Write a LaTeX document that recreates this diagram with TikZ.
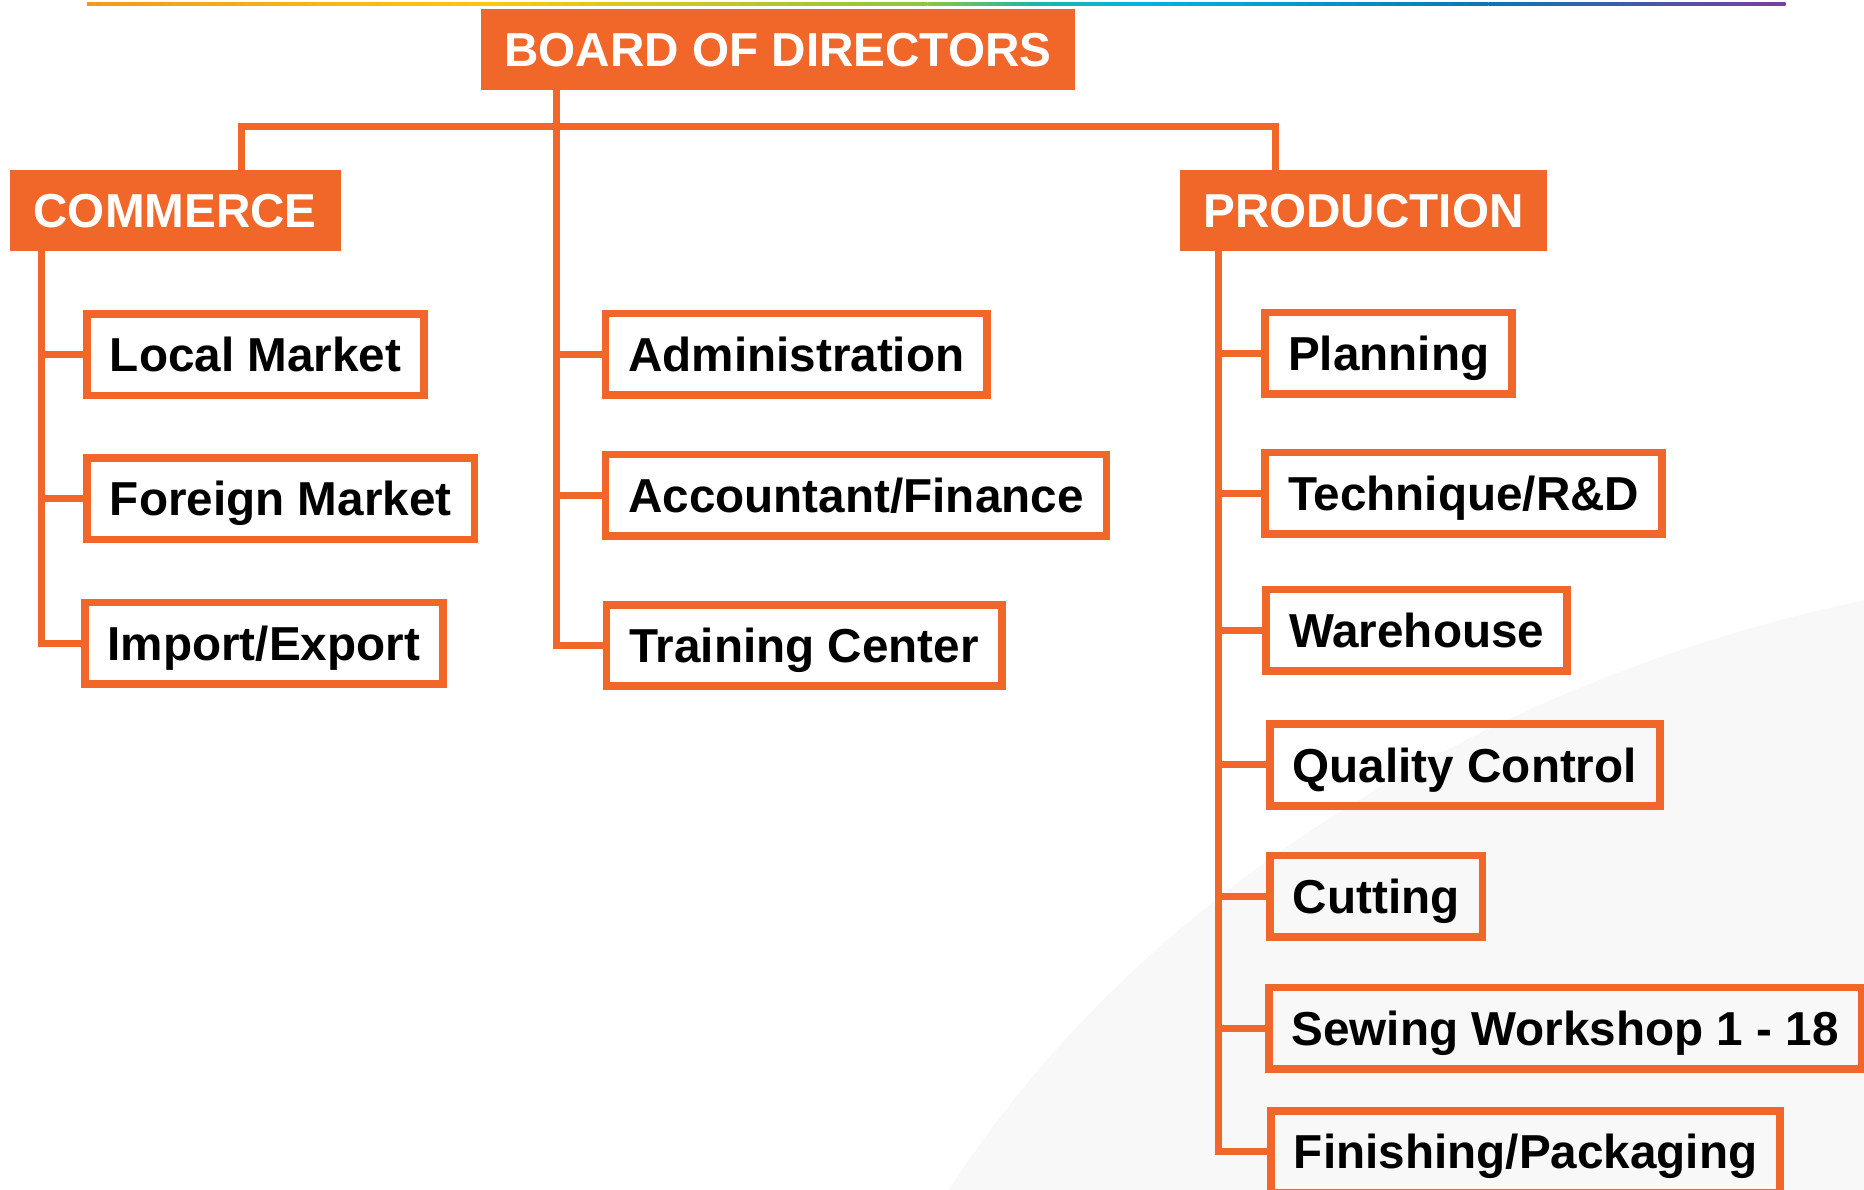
\documentclass[tikz,border=0pt]{standalone}
\usepackage{fontspec}
\setmainfont{Liberation Sans}
\usetikzlibrary{calc}

\definecolor{brand}{HTML}{F06729}
\definecolor{rOrange}{HTML}{F39A1E}
\definecolor{rYellow}{HTML}{FDC70F}
\definecolor{rGreen}{HTML}{8CC63F}
\definecolor{rTeal}{HTML}{1BB7A4}
\definecolor{rCyan}{HTML}{00B4E4}
\definecolor{rBlue}{HTML}{0A76B8}
\definecolor{rPurple}{HTML}{7B3F9B}
\definecolor{swoosh}{HTML}{F8F8F8}

\begin{document}
\begin{tikzpicture}[x=0.025cm, y=-0.025cm,
  head/.style={anchor=west, fill=brand, text=white, font=\bfseries\fontsize{28.5pt}{34pt}\selectfont,
    inner xsep=14.2pt, inner ysep=0pt, text height=20.4pt, text depth=0pt, minimum height=48.4pt},
  box/.style={anchor=west, draw=brand, line width=4.6pt, font=\bfseries\fontsize{28.5pt}{34pt}\selectfont,
    inner xsep=13.7pt, inner ysep=0pt, text height=20.4pt, text depth=0pt, minimum height=48.7pt},
  link/.style={draw=brand, line width=4.2pt}
]
  \useasboundingbox (0,0) rectangle (1568,1001);
  \clip (0,0) rectangle (1568,1001);

  % background
  \fill[swoosh] (798,1001) .. controls (980,720) and (1300,560) .. (1568,505) -- (1568,1001) -- cycle;

  % rainbow rule
  \shade[left color=rOrange, right color=rYellow] (73,1.7) rectangle (414,4.4);
  \shade[left color=rYellow, right color=rGreen] (414,1.7) rectangle (780,4.4);
  \shade[left color=rGreen, right color=rTeal] (780,1.7) rectangle (870,4.4);
  \shade[left color=rTeal, right color=rCyan] (870,1.7) rectangle (960,4.4);
  \shade[left color=rCyan, right color=rBlue] (960,1.7) rectangle (1252,4.4);
  \shade[left color=rBlue, right color=rPurple] (1252,1.7) rectangle (1502,4.4);

  \node[head] (bod) at (404,41.5) {BOARD OF DIRECTORS};
  \node[head] (comm) at (8,177) {COMMERCE};
  \node[head] (prod) at (992,177) {PRODUCTION};

  \node[box] (local) at (70,298.5) {Local Market};
  \node[box] (foreign) at (70,419.5) {Foreign Market};
  \node[box] (impex) at (68,541) {Import/Export};

  \node[box] (admin) at (506,298) {Administration};
  \node[box] (acct) at (506,416.5) {Accountant/Finance};
  \node[box] (train) at (507,543) {Training Center};

  \node[box] (plan) at (1061,297) {Planning};
  \node[box] (tech) at (1061,415) {Technique/R\&D};
  \node[box] (store) at (1062,530) {Warehouse};
  \node[box] (qc) at (1065,643.5) {Quality Control};
  \node[box] (cut) at (1065,754) {Cutting};
  \node[box] (sew) at (1064,865) {Sewing Workshop 1 - 18};
  \node[box] (finish) at (1066,969) {Finishing/Packaging};

  \coordinate (bus) at (468,106);
  \draw[link] ($(comm.north west)+(195,0)$) |- (bus) -| ($(prod.north west)+(81,0)$);

  \foreach \n in {local,foreign,impex}
    \draw[link] ($(comm.south west)+(27,0)$) |- (\n.west);
  \foreach \n in {admin,acct,train}
    \draw[link] ($(bod.south west)+(64,0)$) |- (\n.west);
  \foreach \n in {plan,tech,store,qc,cut,sew,finish}
    \draw[link] ($(prod.south west)+(33,0)$) |- (\n.west);
\end{tikzpicture}
\end{document}
